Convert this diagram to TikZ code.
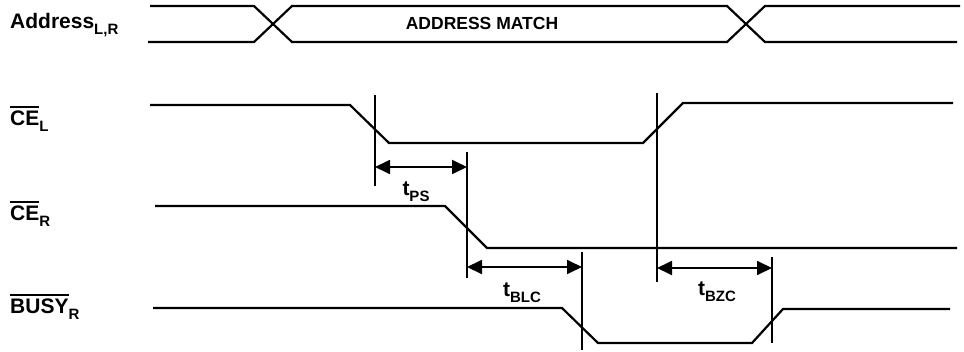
\documentclass[tikz,border=0pt]{standalone}
\usepackage{fontspec}
\setmainfont{Liberation Sans}
\usetikzlibrary{arrows.meta}
\newcommand\sgsub[1]{\raisebox{-0.3em}{\fontsize{15}{15}\selectfont #1}}
\newcommand\sgbar[1]{\setbox0=\hbox{#1}\rlap{\rule[\dimexpr\ht0+2pt\relax]{\wd0}{2pt}}\box0}
\tikzset{
  sig/.style={draw=black, line width=2.2pt, line join=miter},       % signal waveform
  mk/.style={draw=black, line width=1.6pt},                          % timing marker
  dim/.style={draw=black, line width=1.8pt,
              {Triangle[length=15pt,width=14pt]}-{Triangle[length=15pt,width=14pt]}}, % interval
  lbl/.style={font=\fontsize{21}{23}\selectfont\bfseries, anchor=base west, inner sep=0pt},
  tlbl/.style={font=\fontsize{21}{23}\selectfont\bfseries, anchor=base, inner sep=0pt},
  buslbl/.style={font=\fontsize{17.5}{19}\selectfont\bfseries, inner sep=0pt},
}

\begin{document}
\begin{tikzpicture}[x=1pt, y=-1pt]
  \useasboundingbox (0,0) rectangle (964,351);
  % signal names
  \node[lbl] (addr) at (10,28)  {Address\sgsub{L,R}};
  \node[lbl] (cel)  at (10,125) {\sgbar{CE}\sgsub{L}};
  \node[lbl] (cer)  at (10,220) {\sgbar{CE}\sgsub{R}};
  \node[lbl] (busy) at (10,313) {\sgbar{BUSY}\sgsub{R}};
  % waveforms
  \draw[sig] (150,6) -- (254,6) -- (292,42) -- (727,42) -- (765,6) -- (960,6);
  \draw[sig] (148,42) -- (254,42) -- (292,6) -- (727,6) -- (765,42) -- (957,42);
  \node[buslbl] (match) at (482,23) {ADDRESS MATCH};
  \draw[sig] (150,105) -- (350,105) -- (389,143) -- (643,143) -- (683,103) -- (953,103);
  \draw[sig] (155,206) -- (445,206) -- (487,248) -- (957,248);
  \draw[sig] (153,308) -- (562,308) -- (598,343) -- (752,343) -- (783,309) -- (950,309);
  % timing markers
  \foreach \n/\x/\ya/\yb in {1/375/95/186, 2/467/152/278, 3/582/252/350, 4/657/93/282, 5/772/257/343}{
    \coordinate (m\n t) at (\x,\ya);
    \coordinate (m\n b) at (\x,\yb);
    \draw[mk] (m\n t) -- (m\n b);
  }
  \draw[dim] (m1t |- 0,167) -- (m2t |- 0,167);
  \draw[dim] (m2t |- 0,267) -- (m3t |- 0,267);
  \draw[dim] (m4t |- 0,268) -- (m5t |- 0,268);
  \node[tlbl] (tps)  at (416,195) {t\sgsub{PS}};
  \node[tlbl] (tblc) at (522,296) {t\sgsub{BLC}};
  \node[tlbl] (tbzc) at (717,295) {t\sgsub{BZC}};
\end{tikzpicture}
\end{document}
